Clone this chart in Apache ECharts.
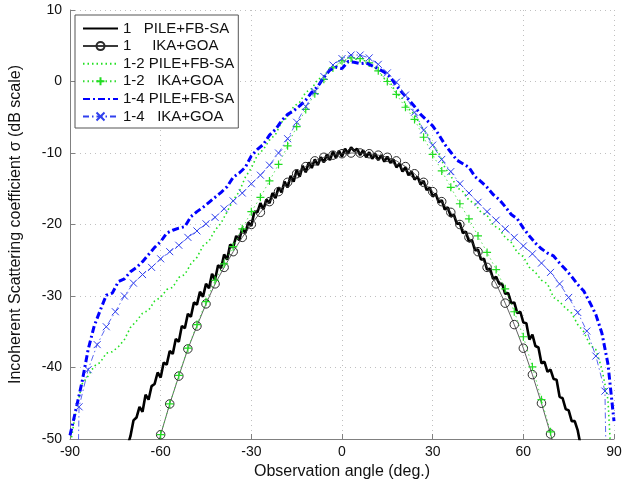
<!DOCTYPE html>
<html>
<head>
<meta charset="utf-8">
<script src="https://cdn.jsdelivr.net/npm/echarts@6/dist/echarts.min.js"></script>
<style>html,body{margin:0;padding:0;background:#fff}#c{width:632px;height:485px}</style>
</head>
<body>
<div id="c"></div>
<script>
// ---- data ----
// 1 PILE+FB-SA : angles -71..79 step 1
const pile1Start = -71, pile1Step = 1;
const pile1 = [-51.0,-49.6,-47.4,-47.0,-45.5,-46.2,-43.8,-44.5,-42.6,-42.3,-40.7,-41.4,-39.3,-39.6,-37.7,-38.1,-36.0,-36.4,-34.2,-34.5,
-32.5,-32.9,-30.9,-31.2,-29.4,-30.1,-28.3,-28.9,-26.9,-27.7,-25.7,-26.1,-24.2,-24.9,-22.8,-23.2,-21.6,-22.2,-20.5,-21.2,
-19.7,-20.2,-18.2,-18.3,-17.0,-17.9,-16.5,-17.0,-15.6,-16.3,-14.8,-15.5,-14.0,-14.8,-13.2,-14.0,-12.4,-13.3,-11.8,-12.7,
-11.3,-12.1,-10.9,-11.7,-10.6,-11.3,-10.2,-11.0,-9.8,-10.7,-9.7,-10.5,-9.4,-10.1,-9.2,-9.7,-9.4,-10.3,-9.6,-10.6,
-9.9,-10.8,-10.1,-11.0,-10.3,-11.2,-10.5,-11.4,-10.9,-12.0,-11.5,-12.6,-12.0,-13.1,-12.6,-13.7,-13.3,-14.4,-13.9,-15.2,
-14.8,-16.1,-15.7,-16.9,-16.6,-17.9,-17.6,-18.9,-18.6,-19.9,-19.8,-21.2,-21.0,-22.4,-22.2,-23.6,-23.5,-24.9,-24.8,-26.3,
-26.2,-27.6,-27.3,-28.3,-28.3,-29.7,-29.6,-31.0,-30.9,-32.4,-32.2,-33.7,-33.8,-36.1,-35.4,-37.0,-37.2,-39.4,-39.2,-40.6,
-40.3,-41.6,-41.7,-44.1,-44.3,-45.8,-46.0,-47.5,-47.5,-48.8,-51.0];

// 1 IKA+GOA : angles -63..72 step 3
const ika1Start = -63, ikaStep = 3;
const ika1 = [-53.8,-49.4,-45.1,-41.2,-37.4,-34.2,-31.1,-28.3,-26.0,-23.8,-21.8,-20.0,-18.3,-16.8,-15.4,-14.1,-12.9,-11.9,-11.1,-10.6,
-10.3,-10.1,-10.0,-10.0,-10.1,-10.3,-10.6,-11.1,-11.9,-12.9,-14.1,-15.4,-16.8,-18.3,-20.0,-21.8,-23.8,-26.0,-28.3,-31.0,
-34.0,-37.3,-41.0,-45.0,-49.3,-53.8];

// 1-2 PILE+FB-SA : angles -90..90 step 2
const pile2Start = -90, pileStep = 2;
const pile2 = [-51.0,-46.0,-42.3,-41.2,-39.8,-39.3,-38.0,-37.8,-37.1,-36.1,-34.4,-33.5,-32.4,-32.0,-30.7,-30.2,-29.1,-28.8,-27.4,-27.0,
-25.5,-24.6,-23.0,-22.3,-20.8,-19.8,-18.2,-16.6,-15.4,-13.4,-12.1,-10.3,-9.5,-8.2,-7.4,-5.7,-5.0,-3.5,-2.9,-1.5,
-1.0,0.3,0.7,1.9,2.1,2.8,2.6,3.2,2.9,2.9,2.2,1.5,0.4,-0.2,-1.6,-2.4,-3.8,-4.6,-6.2,-7.2,
-8.9,-10.0,-12.0,-13.2,-14.8,-15.4,-16.6,-17.1,-18.3,-18.7,-20.1,-20.6,-21.8,-22.5,-23.9,-24.5,-26.0,-26.7,-27.8,-28.3,
-30.2,-30.8,-31.7,-32.4,-34.0,-35.0,-36.8,-37.5,-40.2,-44.5,-60.0];

// 1-2 IKA+GOA : angles -63..72 step 3
const ika2 = [-53.8,-49.4,-45.1,-41.1,-37.3,-34.0,-30.8,-27.8,-25.5,-23.1,-20.6,-18.2,-16.2,-13.9,-11.6,-9.0,-6.3,-3.9,-1.7,0.3,
1.9,2.9,3.3,3.2,2.6,1.5,0.0,-1.8,-3.6,-5.3,-7.8,-10.2,-12.5,-14.8,-17.1,-19.2,-21.6,-23.9,-26.3,-29.0,
-32.2,-35.7,-39.9,-44.5,-49.0,-54.0];

// 1-4 PILE+FB-SA : angles -90..90 step 2
const pile4 = [-49.5,-45.8,-42.0,-37.5,-34.2,-32.0,-29.9,-29.6,-28.0,-27.6,-26.6,-26.0,-25.2,-24.2,-23.2,-22.4,-21.2,-20.8,-20.5,-20.3,
-18.9,-18.2,-17.6,-16.9,-16.2,-15.5,-14.7,-13.4,-12.8,-12.0,-10.4,-9.5,-8.8,-7.5,-6.7,-5.5,-4.6,-4.1,-3.4,-2.6,
-1.5,-0.7,0.6,1.6,2.0,1.8,2.8,2.7,2.5,2.6,2.2,1.8,1.3,0.6,-0.6,-1.6,-2.5,-3.5,-4.6,-5.4,
-6.2,-7.4,-8.8,-9.9,-11.0,-11.5,-12.0,-13.3,-14.0,-14.8,-15.8,-16.5,-17.5,-18.6,-19.2,-20.5,-21.6,-22.6,-23.4,-24.0,
-24.4,-25.4,-26.3,-27.3,-28.4,-29.3,-30.9,-32.6,-35.2,-39.5,-47.5];

// 1-4 IKA+GOA : angles -90..90 step 3
const ika4Start = -90;
const ika4 = [-120,-45.5,-40.3,-36.8,-34.3,-32.2,-30.0,-28.2,-27.0,-26.0,-24.8,-23.8,-22.9,-21.8,-20.9,-19.9,-19.0,-17.8,-16.7,-15.6,
-14.3,-13.1,-11.7,-10.0,-8.0,-5.7,-3.5,-1.4,0.7,2.3,3.2,3.7,3.7,3.3,2.4,1.2,-0.1,-1.9,-4.3,-6.8,
-8.9,-10.9,-12.6,-14.3,-15.6,-16.9,-18.2,-19.4,-20.6,-21.8,-23.0,-24.1,-25.4,-26.7,-28.3,-30.2,-32.3,-34.9,-38.4,-43.3,-120];

const xTicks = [-90,-60,-30,0,30,60,90];
const yTicks = [10,0,-10,-20,-30,-40,-50];
const names = ['1   PILE+FB-SA','1     IKA+GOA','1-2 PILE+FB-SA','1-2   IKA+GOA','1-4 PILE+FB-SA','1-4   IKA+GOA'];

function pairs(start, step, vals){ return vals.map((v,i)=>[start+i*step, v]); }

const plusPath = 'path://M0,5L10,5M5,0L5,10';
const crossPath = 'path://M0,0L10,10M10,0L0,10';
const FONT = 'Liberation Sans, Arial, Helvetica, sans-serif';
const noSym = {color:'rgba(0,0,0,0)',borderColor:'rgba(0,0,0,0)',borderWidth:0};

const chart = echarts.init(document.getElementById('c'), null, {renderer:'canvas'});
chart.setOption({
  animation:false,
  backgroundColor:'#fff',
  textStyle:{fontFamily:FONT},
  grid:{left:68,right:18,top:10,bottom:46,containLabel:false},
  legend:{
    orient:'vertical', left:75, top:15,
    itemWidth:35, itemHeight:10, itemGap:0.6,
    padding:[5,4,3,7],
    backgroundColor:'#fff', borderColor:'#555', borderWidth:1,
    textStyle:{fontSize:15,lineHeight:17,color:'#111',fontFamily:FONT},
    data:[
      {name:names[0],itemStyle:noSym},
      {name:names[1]},
      {name:names[2],itemStyle:noSym},
      {name:names[3]},
      {name:names[4],itemStyle:noSym},
      {name:names[5]}
    ]
  },
  xAxis:{
    type:'value', min:-90, max:90, interval:30,
    name:'Observation angle (deg.)', nameLocation:'middle', nameGap:19,
    nameTextStyle:{fontSize:16,color:'#111',fontFamily:FONT},
    axisLine:{show:true,onZero:false,lineStyle:{color:'#808080',width:1}},
    axisTick:{show:true,inside:true,length:5,lineStyle:{color:'#808080'}},
    axisLabel:{fontSize:14,color:'#111',margin:6,formatter:v=>String(v)},
    splitLine:{show:true,lineStyle:{color:'#c0c0c0',type:[1,4],width:1}}
  },
  yAxis:{
    type:'value', min:-50, max:10, interval:10,
    name:'Incoherent Scattering coefficient \u03c3 (dB scale)', nameLocation:'middle', nameGap:46, nameRotate:90,
    nameTextStyle:{fontSize:16,color:'#111',fontFamily:FONT},
    axisLine:{show:true,onZero:false,lineStyle:{color:'#808080',width:1}},
    axisTick:{show:true,inside:true,length:5,lineStyle:{color:'#808080'}},
    axisLabel:{fontSize:14,color:'#111',margin:8,formatter:v=>String(v)},
    splitLine:{show:true,lineStyle:{color:'#c0c0c0',type:[1,4],width:1}}
  },
  series:[
    {name:names[0],type:'line',data:pairs(pile1Start,pile1Step,pile1),showSymbol:false,symbol:'none',
     lineStyle:{color:'#000',width:2.6},itemStyle:{color:'#000'},clip:true,z:2},
    {name:names[1],type:'line',data:pairs(ika1Start,ikaStep,ika1),symbol:'circle',symbolSize:8.5,showSymbol:true,
     lineStyle:{color:'#3a3a3a',width:0.8},itemStyle:{color:'rgba(0,0,0,0)',borderColor:'#2a2a2a',borderWidth:1},clip:true,z:3},
    {name:names[2],type:'line',data:pairs(pile2Start,pileStep,pile2),symbol:'none',
     lineStyle:{color:'#22e022',width:1.6,type:[1.5,3]},itemStyle:{color:'#22e022'},clip:true,z:4},
    {name:names[3],type:'line',data:pairs(ika1Start,ikaStep,ika2),symbol:plusPath,symbolSize:8,showSymbol:true,
     lineStyle:{color:'#33dd33',width:0.8,type:[1.5,3]},itemStyle:{color:'rgba(0,0,0,0)',borderColor:'#22dd22',borderWidth:1.2},clip:true,z:5},
    {name:names[4],type:'line',data:pairs(pile2Start,pileStep,pile4),symbol:'none',
     lineStyle:{color:'#0000ff',width:3,type:[7,3,2,3]},itemStyle:{color:'#0000ff'},clip:true,z:6},
    {name:names[5],type:'line',data:pairs(ika4Start,ikaStep,ika4),symbol:crossPath,symbolSize:7,showSymbol:true,
     lineStyle:{color:'#3040ee',width:0.8,type:[6,3,1.5,3]},itemStyle:{color:'rgba(0,0,0,0)',borderColor:'#3040ee',borderWidth:1},clip:true,z:7}
  ]
});
</script>
</body>
</html>
